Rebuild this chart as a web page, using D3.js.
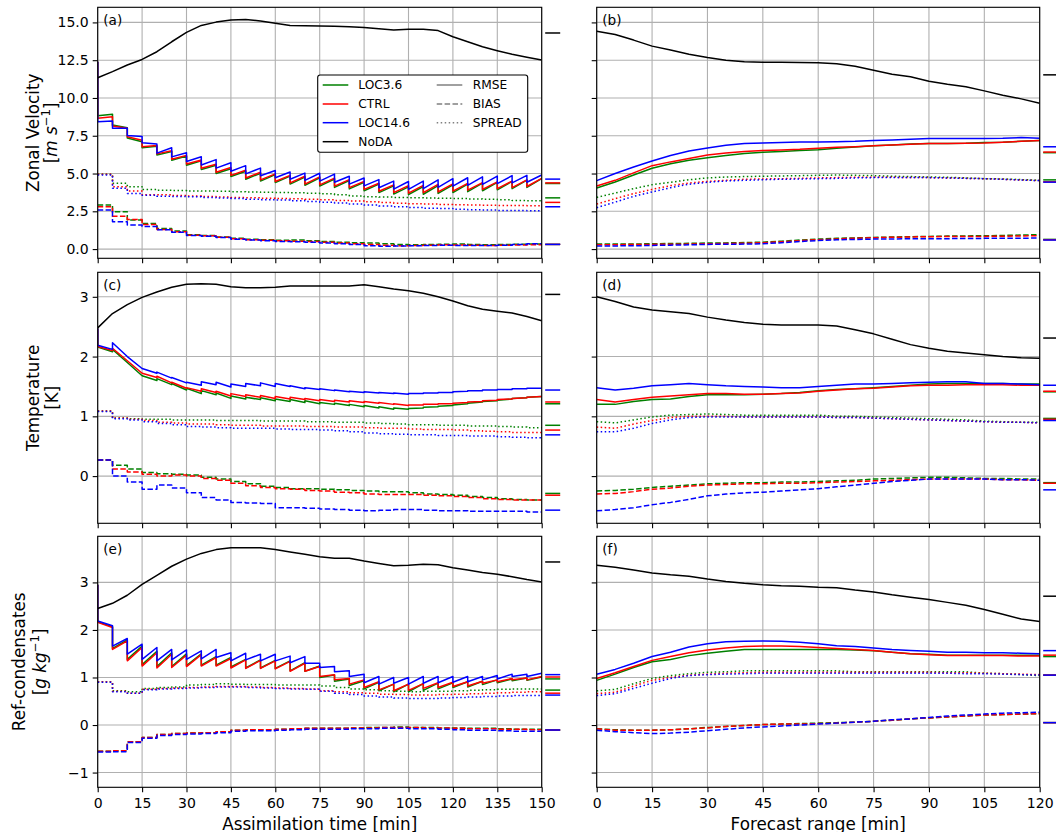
<!DOCTYPE html>
<html>
<head>
<meta charset="utf-8">
<script src="https://cdn.jsdelivr.net/npm/d3@7"></script>
<style>
  body { margin: 0; background: #fff; }
  svg { display: block; font-family: "DejaVu Sans", sans-serif; }
</style>
</head>
<body>
<svg id="chart" width="1056" height="832"></svg>
<script>
// ---------- data ----------
const experiments = ["LOC3.6", "CTRL", "LOC14.6"];
const metrics = ["RMSE", "BIAS", "SPREAD"];
const asmTimes = d3.range(0, 151, 5);   // assimilation cycles, every 5 min
const fcTimes = d3.range(0, 121, 5);    // forecast output, every 5 min

// (a) zonal velocity, assimilation. fg = before analysis, an = after analysis
const uAsmNoDA = [11.34,11.74,12.18,12.55,13.06,13.72,14.34,14.8,15.02,15.16,15.2,15.1,14.94,14.8,14.78,14.76,14.74,14.72,14.67,14.58,14.5,14.54,14.54,14.46,14.05,13.72,13.39,13.13,12.89,12.69,12.51];
const uAsmFgLoc36 = [12.4,8.93,8.03,7.1,6.8,6.45,6.15,5.85,5.55,5.32,5.15,5.02,4.93,4.83,4.76,4.72,4.64,4.54,4.42,4.3,4.18,4.12,4.14,4.2,4.25,4.3,4.36,4.42,4.48,4.56,4.66];
const uAsmAnLoc36 = [8.83,8.21,7.35,6.7,6.22,5.88,5.55,5.27,5.0,4.8,4.62,4.5,4.4,4.3,4.22,4.17,4.08,3.98,3.86,3.74,3.64,3.6,3.63,3.68,3.74,3.8,3.86,3.92,4.0,4.08,4.14];
const uAsmFgCtrl = [12.4,8.76,7.99,7.2,6.85,6.5,6.2,5.9,5.62,5.4,5.22,5.08,4.98,4.88,4.82,4.78,4.7,4.6,4.48,4.36,4.25,4.2,4.22,4.28,4.32,4.35,4.4,4.45,4.5,4.58,4.68];
const uAsmAnCtrl = [8.65,8.14,7.44,6.78,6.3,5.95,5.63,5.35,5.08,4.88,4.7,4.58,4.47,4.38,4.3,4.25,4.17,4.07,3.95,3.83,3.74,3.7,3.73,3.78,3.84,3.9,3.95,4.0,4.07,4.14,4.2];
const uAsmFgLoc146 = [12.4,8.47,8.0,7.45,6.95,6.71,6.38,6.11,5.92,5.71,5.52,5.36,5.2,5.1,5.03,5.02,4.96,4.82,4.7,4.6,4.5,4.47,4.5,4.58,4.66,4.72,4.78,4.83,4.86,4.88,4.9];
const uAsmAnLoc146 = [8.43,8.0,7.52,7.04,6.35,6.1,5.8,5.56,5.36,5.15,4.98,4.85,4.72,4.62,4.55,4.5,4.42,4.3,4.18,4.06,3.97,3.95,4.0,4.08,4.16,4.22,4.28,4.33,4.38,4.42,4.45];
const uAsmSprLoc36 = [4.95,4.35,4.13,3.95,3.9,3.88,3.85,3.84,3.82,3.8,3.78,3.76,3.75,3.72,3.7,3.66,3.6,3.52,3.46,3.44,3.42,3.4,3.38,3.37,3.35,3.32,3.3,3.26,3.22,3.2,3.18];
const uAsmSprCtrl = [4.95,4.13,3.84,3.6,3.6,3.55,3.51,3.48,3.45,3.42,3.4,3.37,3.35,3.33,3.3,3.26,3.22,3.18,3.13,3.08,3.04,3.0,2.98,2.95,2.93,2.92,2.9,2.89,2.88,2.87,2.87];
const uAsmSprLoc146 = [4.9,4.02,3.68,3.57,3.5,3.48,3.46,3.42,3.38,3.35,3.3,3.27,3.24,3.2,3.15,3.1,3.05,2.98,2.91,2.85,2.8,2.75,2.7,2.68,2.63,2.6,2.58,2.56,2.55,2.54,2.54];
const uAsmBiasLoc36 = [2.91,2.47,1.92,1.7,1.37,1.19,0.95,0.9,0.8,0.72,0.65,0.62,0.58,0.6,0.55,0.5,0.45,0.42,0.4,0.35,0.3,0.28,0.3,0.32,0.33,0.3,0.28,0.3,0.32,0.33,0.33];
const uAsmBiasCtrl = [2.8,2.18,1.95,1.62,1.3,1.15,0.92,0.88,0.78,0.68,0.62,0.58,0.55,0.52,0.5,0.45,0.4,0.35,0.3,0.25,0.22,0.24,0.26,0.28,0.27,0.25,0.24,0.25,0.27,0.28,0.3];
const uAsmBiasLoc146 = [2.58,1.81,1.6,1.5,1.28,1.12,0.9,0.85,0.76,0.65,0.6,0.55,0.5,0.48,0.45,0.4,0.35,0.3,0.22,0.18,0.2,0.22,0.24,0.25,0.24,0.23,0.24,0.26,0.3,0.35,0.4];
// side marks: NoDA, RMSE x3, SPREAD x3, BIAS x3
const uAsmMarks = [14.3, 4.34,4.38,4.63, 3.39,3.09,2.8, 0.31,0.31,0.31];

// (b) zonal velocity, forecast
const uFcNoDA = [14.42,14.2,13.83,13.43,13.17,12.9,12.68,12.5,12.39,12.37,12.37,12.35,12.33,12.26,12.1,11.84,11.57,11.4,11.11,10.91,10.74,10.47,10.18,9.94,9.65];
const uFcRmseLoc36 = [4.04,4.44,4.9,5.35,5.65,5.88,6.05,6.19,6.32,6.41,6.45,6.52,6.58,6.67,6.76,6.83,6.89,6.96,6.98,6.98,7.0,7.05,7.07,7.13,7.18];
const uFcRmseCtrl = [4.17,4.55,5.04,5.52,5.77,5.99,6.23,6.36,6.45,6.52,6.56,6.6,6.67,6.74,6.78,6.83,6.89,6.94,6.98,6.98,7.0,7.02,7.07,7.13,7.18];
const uFcRmseLoc146 = [4.53,5.0,5.43,5.83,6.19,6.49,6.69,6.87,6.98,7.02,7.05,7.09,7.09,7.11,7.13,7.18,7.22,7.27,7.31,7.31,7.31,7.31,7.33,7.38,7.33];
const uFcSprLoc36 = [3.42,3.71,4.0,4.26,4.42,4.59,4.71,4.77,4.8,4.82,4.84,4.86,4.88,4.9,4.88,4.86,4.82,4.8,4.77,4.75,4.71,4.66,4.64,4.6,4.55];
const uFcSprCtrl = [2.98,3.34,3.67,3.95,4.2,4.37,4.48,4.55,4.62,4.64,4.66,4.68,4.71,4.73,4.75,4.75,4.75,4.73,4.73,4.71,4.68,4.66,4.62,4.57,4.53];
const uFcSprLoc146 = [2.74,3.11,3.49,3.78,4.06,4.29,4.42,4.51,4.55,4.59,4.62,4.64,4.66,4.68,4.71,4.73,4.73,4.73,4.73,4.71,4.68,4.66,4.62,4.57,4.53];
const uFcBiasLoc36 = [0.33,0.33,0.34,0.35,0.37,0.38,0.4,0.41,0.43,0.46,0.52,0.6,0.66,0.71,0.74,0.77,0.8,0.82,0.84,0.86,0.87,0.88,0.9,0.93,0.95];
const uFcBiasCtrl = [0.29,0.29,0.3,0.31,0.32,0.33,0.35,0.37,0.39,0.42,0.48,0.56,0.62,0.67,0.71,0.75,0.78,0.8,0.82,0.83,0.84,0.84,0.85,0.87,0.88];
const uFcBiasLoc146 = [0.2,0.21,0.22,0.24,0.26,0.28,0.31,0.32,0.33,0.35,0.42,0.5,0.57,0.61,0.64,0.66,0.67,0.68,0.68,0.69,0.7,0.71,0.72,0.72,0.73];
const uFcMarks = [11.53, 6.38,6.42,6.77, 4.58,4.45,4.43, 0.64,0.62,0.6];

// (c) temperature, assimilation
const tAsmNoDA = [2.48,2.72,2.87,2.99,3.08,3.16,3.21,3.22,3.21,3.17,3.15,3.15,3.16,3.18,3.18,3.18,3.18,3.18,3.2,3.17,3.13,3.1,3.06,3.0,2.93,2.85,2.79,2.76,2.73,2.67,2.6];
const tAsmFgLoc36 = [2.47,2.08,1.9,1.68,1.6,1.53,1.44,1.38,1.36,1.3,1.29,1.28,1.26,1.25,1.23,1.21,1.2,1.18,1.16,1.14,1.12,1.12,1.14,1.16,1.18,1.21,1.24,1.26,1.29,1.31,1.33];
const tAsmAnLoc36 = [2.16,2.12,1.9,1.68,1.63,1.55,1.47,1.43,1.39,1.34,1.32,1.31,1.29,1.28,1.26,1.23,1.22,1.2,1.18,1.16,1.14,1.13,1.15,1.17,1.19,1.22,1.25,1.27,1.3,1.32,1.33];
const tAsmFgCtrl = [2.47,2.1,1.93,1.72,1.65,1.56,1.47,1.42,1.4,1.34,1.33,1.32,1.3,1.29,1.28,1.26,1.25,1.24,1.23,1.22,1.2,1.18,1.19,1.2,1.21,1.23,1.25,1.27,1.29,1.31,1.33];
const tAsmAnCtrl = [2.17,2.14,1.93,1.72,1.67,1.57,1.48,1.46,1.42,1.38,1.36,1.35,1.33,1.32,1.3,1.28,1.27,1.26,1.25,1.23,1.21,1.19,1.2,1.21,1.22,1.24,1.26,1.28,1.3,1.32,1.33];
const tAsmFgLoc146 = [2.47,2.12,2.0,1.8,1.72,1.64,1.56,1.52,1.53,1.49,1.5,1.51,1.5,1.5,1.46,1.45,1.43,1.41,1.4,1.39,1.38,1.37,1.38,1.39,1.4,1.42,1.43,1.44,1.45,1.46,1.47];
const tAsmAnLoc146 = [2.19,2.23,2.0,1.8,1.74,1.65,1.57,1.58,1.57,1.54,1.55,1.56,1.55,1.51,1.48,1.46,1.44,1.42,1.41,1.4,1.39,1.38,1.39,1.4,1.41,1.43,1.44,1.45,1.46,1.47,1.47];
const tAsmSprLoc36 = [1.09,0.97,0.96,0.95,0.95,0.94,0.94,0.94,0.93,0.93,0.93,0.92,0.92,0.92,0.91,0.91,0.9,0.9,0.89,0.88,0.87,0.86,0.86,0.85,0.85,0.84,0.84,0.83,0.82,0.81,0.79];
const tAsmSprCtrl = [1.09,0.97,0.95,0.93,0.9,0.89,0.87,0.87,0.86,0.85,0.85,0.84,0.84,0.84,0.83,0.83,0.82,0.82,0.81,0.8,0.8,0.79,0.78,0.78,0.77,0.76,0.75,0.74,0.73,0.73,0.72];
const tAsmSprLoc146 = [1.08,0.96,0.94,0.91,0.88,0.86,0.83,0.82,0.81,0.8,0.8,0.8,0.79,0.78,0.78,0.77,0.76,0.74,0.72,0.71,0.7,0.69,0.69,0.68,0.68,0.67,0.67,0.66,0.65,0.64,0.63];
const tAsmBiasLoc36 = [0.27,0.18,0.12,0.06,0.04,0.03,0.02,-0.02,-0.05,-0.09,-0.13,-0.17,-0.19,-0.21,-0.21,-0.22,-0.23,-0.24,-0.25,-0.26,-0.26,-0.28,-0.3,-0.31,-0.32,-0.34,-0.36,-0.38,-0.39,-0.4,-0.41];
const tAsmBiasCtrl = [0.27,0.12,0.07,0.03,0.0,0.02,0.0,-0.04,-0.07,-0.12,-0.16,-0.19,-0.21,-0.22,-0.24,-0.25,-0.27,-0.28,-0.3,-0.31,-0.31,-0.31,-0.32,-0.33,-0.34,-0.36,-0.38,-0.39,-0.4,-0.4,-0.41];
const tAsmBiasLoc146 = [0.27,0.0,-0.1,-0.22,-0.15,-0.2,-0.28,-0.36,-0.4,-0.44,-0.45,-0.46,-0.53,-0.53,-0.54,-0.55,-0.56,-0.57,-0.58,-0.57,-0.56,-0.56,-0.57,-0.58,-0.58,-0.59,-0.59,-0.59,-0.59,-0.6,-0.6];
const tAsmMarks = [3.04, 1.21,1.24,1.44, 0.85,0.77,0.69, -0.29,-0.32,-0.57];

// (d) temperature, forecast
const tFcNoDA = [3.0,2.92,2.83,2.78,2.75,2.72,2.66,2.61,2.57,2.54,2.53,2.53,2.53,2.51,2.45,2.38,2.29,2.2,2.14,2.09,2.06,2.03,2.0,1.98,1.97];
const tFcRmseLoc36 = [1.2,1.2,1.25,1.28,1.29,1.33,1.36,1.36,1.36,1.37,1.38,1.4,1.43,1.45,1.46,1.48,1.5,1.52,1.54,1.55,1.55,1.55,1.55,1.54,1.54];
const tFcRmseCtrl = [1.28,1.24,1.28,1.32,1.34,1.36,1.38,1.38,1.37,1.37,1.38,1.39,1.42,1.44,1.46,1.47,1.49,1.51,1.52,1.52,1.53,1.53,1.53,1.52,1.52];
const tFcRmseLoc146 = [1.48,1.44,1.47,1.51,1.53,1.55,1.53,1.51,1.5,1.49,1.48,1.48,1.5,1.52,1.54,1.54,1.55,1.56,1.57,1.58,1.58,1.55,1.55,1.54,1.53];
const tFcSprLoc36 = [0.91,0.89,0.94,0.99,1.02,1.03,1.04,1.03,1.02,1.02,1.02,1.02,1.02,1.0,1.0,0.99,0.98,0.97,0.96,0.95,0.94,0.92,0.91,0.9,0.9];
const tFcSprCtrl = [0.82,0.8,0.87,0.93,0.98,1.0,1.0,1.0,0.99,0.99,0.99,0.99,0.99,0.98,0.98,0.97,0.96,0.95,0.94,0.93,0.92,0.91,0.9,0.9,0.89];
const tFcSprLoc146 = [0.74,0.74,0.8,0.88,0.94,0.98,0.99,0.99,0.99,0.99,0.99,0.99,0.99,0.98,0.98,0.97,0.96,0.95,0.94,0.93,0.92,0.91,0.9,0.9,0.89];
const tFcBiasLoc36 = [-0.25,-0.24,-0.22,-0.19,-0.17,-0.15,-0.13,-0.12,-0.11,-0.11,-0.1,-0.1,-0.09,-0.08,-0.07,-0.05,-0.04,-0.03,-0.02,-0.02,-0.03,-0.04,-0.04,-0.05,-0.05];
const tFcBiasCtrl = [-0.3,-0.29,-0.26,-0.22,-0.2,-0.17,-0.15,-0.14,-0.13,-0.13,-0.12,-0.12,-0.11,-0.1,-0.09,-0.08,-0.07,-0.06,-0.05,-0.05,-0.05,-0.05,-0.06,-0.06,-0.07];
const tFcBiasLoc146 = [-0.58,-0.56,-0.53,-0.48,-0.44,-0.39,-0.33,-0.3,-0.28,-0.27,-0.25,-0.23,-0.21,-0.18,-0.15,-0.12,-0.09,-0.07,-0.05,-0.05,-0.05,-0.05,-0.06,-0.06,-0.07];
const tFcMarks = [2.31, 1.41,1.42,1.52, 0.965,0.95,0.93, -0.11,-0.12,-0.23];

// (e) reflectivity condensates, assimilation
const qAsmNoDA = [2.45,2.56,2.73,2.96,3.15,3.34,3.49,3.61,3.69,3.73,3.73,3.73,3.69,3.64,3.59,3.54,3.51,3.51,3.45,3.4,3.35,3.36,3.38,3.37,3.31,3.26,3.21,3.17,3.12,3.06,3.01];
const qAsmFgLoc36 = [2.95,2.07,1.79,1.66,1.55,1.52,1.5,1.5,1.44,1.42,1.38,1.37,1.36,1.35,1.31,1.24,1.05,0.97,0.93,0.9,0.86,0.86,0.87,0.88,0.89,0.91,0.92,0.95,0.97,0.99,1.01];
const qAsmAnLoc36 = [2.17,1.61,1.38,1.27,1.23,1.23,1.25,1.26,1.26,1.22,1.2,1.2,1.19,1.14,1.13,1.0,0.92,0.83,0.76,0.72,0.7,0.7,0.73,0.76,0.79,0.8,0.85,0.89,0.93,0.94,0.98];
const qAsmFgCtrl = [2.95,2.05,1.77,1.63,1.52,1.49,1.47,1.48,1.42,1.4,1.37,1.36,1.35,1.34,1.3,1.23,1.06,0.98,0.95,0.91,0.86,0.86,0.87,0.89,0.9,0.91,0.92,0.95,0.98,0.99,1.02];
const qAsmAnCtrl = [2.16,1.59,1.35,1.24,1.2,1.21,1.23,1.24,1.24,1.2,1.19,1.19,1.18,1.13,1.13,1.02,0.95,0.86,0.79,0.74,0.72,0.73,0.77,0.79,0.81,0.82,0.88,0.91,0.95,0.95,1.0];
const qAsmFgLoc146 = [2.95,2.09,1.82,1.7,1.63,1.59,1.58,1.56,1.59,1.52,1.51,1.49,1.49,1.45,1.44,1.3,1.23,1.14,1.07,1.02,1.0,1.0,1.02,1.02,1.02,1.02,1.02,1.04,1.07,1.07,1.09];
const qAsmAnLoc146 = [2.19,1.66,1.49,1.38,1.35,1.37,1.38,1.39,1.42,1.35,1.37,1.35,1.35,1.31,1.3,1.21,1.12,1.02,0.89,0.86,0.88,0.86,0.88,0.89,0.9,0.91,0.95,0.97,1.02,1.02,1.05];
const qAsmSprLoc36 = [0.91,0.72,0.7,0.77,0.79,0.8,0.84,0.85,0.87,0.86,0.85,0.85,0.84,0.84,0.84,0.82,0.79,0.76,0.74,0.72,0.71,0.7,0.71,0.71,0.72,0.73,0.74,0.75,0.76,0.76,0.76];
const qAsmSprCtrl = [0.91,0.71,0.67,0.75,0.77,0.78,0.79,0.8,0.81,0.81,0.8,0.79,0.78,0.77,0.76,0.72,0.7,0.68,0.67,0.65,0.64,0.63,0.63,0.64,0.65,0.66,0.67,0.68,0.69,0.7,0.7];
const qAsmSprLoc146 = [0.9,0.7,0.67,0.74,0.76,0.77,0.78,0.79,0.8,0.8,0.79,0.78,0.77,0.76,0.75,0.71,0.67,0.64,0.61,0.59,0.57,0.56,0.56,0.57,0.58,0.59,0.6,0.61,0.62,0.62,0.62];
const qAsmBiasLoc36 = [-0.55,-0.54,-0.35,-0.26,-0.2,-0.18,-0.17,-0.16,-0.14,-0.11,-0.1,-0.1,-0.09,-0.08,-0.07,-0.07,-0.07,-0.06,-0.05,-0.05,-0.04,-0.05,-0.05,-0.06,-0.06,-0.07,-0.07,-0.08,-0.09,-0.09,-0.1];
const qAsmBiasCtrl = [-0.55,-0.54,-0.35,-0.26,-0.2,-0.18,-0.17,-0.16,-0.14,-0.11,-0.1,-0.1,-0.09,-0.08,-0.07,-0.07,-0.07,-0.06,-0.06,-0.05,-0.05,-0.05,-0.06,-0.06,-0.07,-0.08,-0.08,-0.09,-0.09,-0.1,-0.1];
const qAsmBiasLoc146 = [-0.57,-0.56,-0.37,-0.28,-0.22,-0.2,-0.19,-0.18,-0.16,-0.13,-0.12,-0.12,-0.11,-0.1,-0.09,-0.09,-0.09,-0.08,-0.08,-0.07,-0.07,-0.08,-0.08,-0.09,-0.1,-0.11,-0.11,-0.12,-0.13,-0.13,-0.14];
const qAsmMarks = [3.43, 0.97,1.01,1.06, 0.735,0.67,0.63, -0.105,-0.105,-0.105];

// (f) reflectivity condensates, forecast
const qFcNoDA = [3.36,3.32,3.26,3.2,3.16,3.13,3.07,3.02,2.98,2.95,2.93,2.92,2.9,2.89,2.84,2.8,2.74,2.69,2.64,2.58,2.52,2.43,2.33,2.23,2.18];
const qFcRmseLoc36 = [0.94,1.07,1.21,1.33,1.38,1.46,1.51,1.55,1.59,1.59,1.59,1.59,1.59,1.59,1.58,1.56,1.53,1.5,1.49,1.47,1.47,1.47,1.47,1.47,1.47];
const qFcRmseCtrl = [0.98,1.1,1.23,1.36,1.44,1.52,1.58,1.62,1.65,1.66,1.66,1.65,1.63,1.61,1.59,1.57,1.53,1.5,1.48,1.46,1.46,1.46,1.46,1.45,1.45];
const qFcRmseLoc146 = [1.07,1.17,1.3,1.44,1.53,1.64,1.71,1.75,1.76,1.77,1.76,1.74,1.71,1.67,1.65,1.62,1.59,1.57,1.55,1.53,1.53,1.52,1.52,1.51,1.5];
const qFcSprLoc36 = [0.72,0.75,0.87,0.98,1.04,1.08,1.11,1.12,1.14,1.14,1.14,1.14,1.14,1.14,1.12,1.12,1.12,1.12,1.12,1.12,1.12,1.09,1.08,1.06,1.04];
const qFcSprCtrl = [0.66,0.69,0.82,0.94,1.0,1.05,1.07,1.09,1.1,1.11,1.11,1.11,1.11,1.11,1.11,1.11,1.11,1.11,1.11,1.1,1.1,1.09,1.08,1.07,1.06];
const qFcSprLoc146 = [0.62,0.66,0.77,0.88,0.98,1.04,1.06,1.07,1.08,1.09,1.09,1.09,1.09,1.09,1.09,1.09,1.09,1.09,1.09,1.09,1.08,1.08,1.07,1.06,1.05];
const qFcBiasLoc36 = [-0.08,-0.1,-0.11,-0.11,-0.1,-0.08,-0.05,-0.03,-0.01,0.01,0.02,0.03,0.04,0.05,0.06,0.08,0.1,0.13,0.15,0.17,0.19,0.21,0.22,0.23,0.24];
const qFcBiasCtrl = [-0.08,-0.11,-0.11,-0.11,-0.1,-0.08,-0.06,-0.03,-0.01,0.01,0.02,0.02,0.03,0.04,0.06,0.08,0.1,0.13,0.15,0.17,0.19,0.21,0.22,0.23,0.24];
const qFcBiasLoc146 = [-0.11,-0.14,-0.16,-0.18,-0.17,-0.15,-0.12,-0.09,-0.06,-0.04,-0.02,0.0,0.02,0.04,0.06,0.08,0.11,0.13,0.16,0.19,0.21,0.23,0.25,0.26,0.27];
const qFcMarks = [2.71, 1.44,1.47,1.565, 1.05,1.05,1.05, 0.05,0.05,0.05];

// axes ticks
const yTickVals = [[0, 2.5, 5, 7.5, 10, 12.5, 15], [0, 1, 2, 3], [-1, 0, 1, 2, 3]];
const yDomains = [[-0.61, 16.0], [-0.79, 3.41], [-1.31, 3.97]];

// ---------- layout ----------
const svg = d3.select("#chart");
const expColors = ["#008000", "#ff0000", "#0000ff"];
const colX = [[97.7, 541.7], [596.7, 1039.7]];
const rowY = [[7.3, 258.3], [272.3, 523.3], [536.3, 787.3]];
const minus = v => (v < 0 ? "\u2212" + Math.abs(v) : "" + v);
const yFormats = [d3.format(".1f"), minus, minus];
const dashes = { RMSE: null, BIAS: "5.5,2.4", SPREAD: "1.5,2.5" };

const panels = [
  { label: "(a)", row: 0, col: 0, times: asmTimes, noda: uAsmNoDA,
    fg: [uAsmFgLoc36, uAsmFgCtrl, uAsmFgLoc146], an: [uAsmAnLoc36, uAsmAnCtrl, uAsmAnLoc146],
    spread: [uAsmSprLoc36, uAsmSprCtrl, uAsmSprLoc146], bias: [uAsmBiasLoc36, uAsmBiasCtrl, uAsmBiasLoc146], marks: uAsmMarks },
  { label: "(b)", row: 0, col: 1, times: fcTimes, noda: uFcNoDA,
    rmse: [uFcRmseLoc36, uFcRmseCtrl, uFcRmseLoc146],
    spread: [uFcSprLoc36, uFcSprCtrl, uFcSprLoc146], bias: [uFcBiasLoc36, uFcBiasCtrl, uFcBiasLoc146], marks: uFcMarks },
  { label: "(c)", row: 1, col: 0, times: asmTimes, noda: tAsmNoDA,
    fg: [tAsmFgLoc36, tAsmFgCtrl, tAsmFgLoc146], an: [tAsmAnLoc36, tAsmAnCtrl, tAsmAnLoc146],
    spread: [tAsmSprLoc36, tAsmSprCtrl, tAsmSprLoc146], bias: [tAsmBiasLoc36, tAsmBiasCtrl, tAsmBiasLoc146], marks: tAsmMarks },
  { label: "(d)", row: 1, col: 1, times: fcTimes, noda: tFcNoDA,
    rmse: [tFcRmseLoc36, tFcRmseCtrl, tFcRmseLoc146],
    spread: [tFcSprLoc36, tFcSprCtrl, tFcSprLoc146], bias: [tFcBiasLoc36, tFcBiasCtrl, tFcBiasLoc146], marks: tFcMarks },
  { label: "(e)", row: 2, col: 0, times: asmTimes, noda: qAsmNoDA,
    fg: [qAsmFgLoc36, qAsmFgCtrl, qAsmFgLoc146], an: [qAsmAnLoc36, qAsmAnCtrl, qAsmAnLoc146],
    spread: [qAsmSprLoc36, qAsmSprCtrl, qAsmSprLoc146], bias: [qAsmBiasLoc36, qAsmBiasCtrl, qAsmBiasLoc146], marks: qAsmMarks },
  { label: "(f)", row: 2, col: 1, times: fcTimes, noda: qFcNoDA,
    rmse: [qFcRmseLoc36, qFcRmseCtrl, qFcRmseLoc146],
    spread: [qFcSprLoc36, qFcSprCtrl, qFcSprLoc146], bias: [qFcBiasLoc36, qFcBiasCtrl, qFcBiasLoc146], marks: qFcMarks }
];

svg.append("rect").attr("width", 1056).attr("height", 832).attr("fill", "#fff");

function drawPanel(p) {
  const [x0, x1] = colX[p.col], [y0, y1] = rowY[p.row];
  const tmax = p.times[p.times.length - 1];
  const x = d3.scaleLinear().domain([0, tmax]).range([x0, x1]);
  const y = d3.scaleLinear().domain(yDomains[p.row]).range([y1, y0]);
  const xTicks = d3.range(0, tmax + 1, 15);
  const g = svg.append("g");
  const clipId = "clip" + p.row + p.col;
  g.append("clipPath").attr("id", clipId)
    .append("rect").attr("x", x0).attr("y", y0).attr("width", x1 - x0).attr("height", y1 - y0);

  // grid
  const grid = g.append("g").attr("stroke", "#b0b0b0").attr("stroke-width", 1.1);
  grid.selectAll(".gx").data(xTicks).join("line")
    .attr("x1", d => x(d)).attr("x2", d => x(d)).attr("y1", y0).attr("y2", y1);
  grid.selectAll(".gy").data(yTickVals[p.row]).join("line")
    .attr("x1", x0).attr("x2", x1).attr("y1", d => y(d)).attr("y2", d => y(d));

  const plot = g.append("g").attr("clip-path", `url(#${clipId})`)
    .attr("fill", "none").attr("stroke-width", 1.5).attr("stroke-linejoin", "round");
  const line = d3.line().x(d => x(d[0])).y(d => y(d[1]));
  const stepLine = d3.line().curve(d3.curveStepAfter).x(d => x(d[0])).y(d => y(d[1]));
  const pairs = arr => p.times.map((t, i) => [t, arr[i]]);

  experiments.forEach((e, i) => {
    let rmsePts;
    if (p.fg) {
      // sawtooth: value before and after each analysis
      rmsePts = [];
      p.times.forEach((t, k) => {
        rmsePts.push([t, p.fg[i][k]]);
        if (k < p.times.length - 1) rmsePts.push([t, p.an[i][k]]);
      });
    } else {
      rmsePts = pairs(p.rmse[i]);
    }
    const lineFn = p.fg ? stepLine : line;
    plot.append("path").attr("d", line(rmsePts)).attr("stroke", expColors[i]);
    plot.append("path").attr("d", lineFn(pairs(p.bias[i]))).attr("stroke", expColors[i])
      .attr("stroke-dasharray", dashes.BIAS);
    plot.append("path").attr("d", lineFn(pairs(p.spread[i]))).attr("stroke", expColors[i])
      .attr("stroke-dasharray", dashes.SPREAD);
  });
  plot.append("path").attr("d", line(pairs(p.noda))).attr("stroke", "#000");

  // side marks (mean values), outside the axes
  const markColors = ["#000"].concat(expColors, expColors, expColors);
  g.append("g").selectAll("line").data(p.marks).join("line")
    .attr("x1", x1 + 3.5).attr("x2", x1 + 18.5)
    .attr("y1", d => y(d)).attr("y2", d => y(d))
    .attr("stroke", (d, k) => markColors[k]).attr("stroke-width", 1.5);

  // axes
  const ax = g.append("g").attr("transform", `translate(0,${y1})`)
    .call(d3.axisBottom(x).tickValues(xTicks).tickSize(5).tickPadding(5.5)
      .tickFormat(p.row === 2 ? d3.format("d") : ""));
  const ay = g.append("g").attr("transform", `translate(${x0},0)`)
    .call(d3.axisLeft(y).tickValues(yTickVals[p.row]).tickSize(5).tickPadding(4)
      .tickFormat(p.col === 0 ? yFormats[p.row] : ""));
  [ax, ay].forEach(a => {
    a.select(".domain").remove();
    a.attr("font-family", null).attr("font-size", 14);
    a.selectAll("line").attr("stroke-width", 1.1);
    a.selectAll("text").attr("fill", "#000");
  });

  g.append("rect").attr("x", x0).attr("y", y0).attr("width", x1 - x0).attr("height", y1 - y0)
    .attr("fill", "none").attr("stroke", "#000").attr("stroke-width", 1.1);

  g.append("text").attr("x", x0 + 5.6).attr("y", y0 + 18)
    .attr("font-size", 13.6).text(p.label);
}

panels.forEach(drawPanel);

// ---------- y labels ----------
function yLabel(cx1, cx2, cy, title, unitParts) {
  const fs = 16.8;
  svg.append("text").attr("transform", `translate(${cx1},${cy}) rotate(-90)`)
    .attr("text-anchor", "middle").attr("dy", "0.35em").attr("font-size", fs).text(title);
  const u = svg.append("text").attr("transform", `translate(${cx2},${cy}) rotate(-90)`)
    .attr("text-anchor", "middle").attr("dy", "0.35em").attr("font-size", fs);
  unitParts.forEach(part => {
    const t = u.append("tspan").text(part.text);
    if (part.italic) t.attr("font-style", "italic");
    if (part.sup) t.attr("font-size", fs * 0.7).attr("dy", -7);
    if (part.after) t.attr("dy", 7);
  });
}
const rowMid = r => (rowY[r][0] + rowY[r][1]) / 2;
yLabel(33, 51, rowMid(0), "Zonal Velocity",
  [{ text: "[" }, { text: "m s", italic: true }, { text: "\u22121", sup: true }, { text: "]", after: true }]);
yLabel(33, 52, rowMid(1), "Temperature", [{ text: "[K]" }]);
yLabel(19, 40, rowMid(2), "Ref-condensates",
  [{ text: "[" }, { text: "g kg", italic: true }, { text: "\u22121", sup: true }, { text: "]", after: true }]);

// ---------- x labels ----------
svg.append("text").attr("x", (colX[0][0] + colX[0][1]) / 2).attr("y", 829.5)
  .attr("text-anchor", "middle").attr("font-size", 16.8).text("Assimilation time [min]");
svg.append("text").attr("x", (colX[1][0] + colX[1][1]) / 2).attr("y", 829.5)
  .attr("text-anchor", "middle").attr("font-size", 16.8).text("Forecast range [min]");

// ---------- legend (panel a) ----------
const legend = svg.append("g");
legend.append("rect").attr("x", 317.7).attr("y", 75).attr("width", 210).attr("height", 77.3)
  .attr("rx", 2.5).attr("fill", "#fff").attr("stroke", "#000").attr("stroke-width", 1.1);
const legRows = [85, 104, 122.7, 141.7];
const legLeft = experiments.map((e, i) => ({ name: e, color: expColors[i], dash: null }))
  .concat([{ name: "NoDA", color: "#000", dash: null }]);
const legRight = metrics.map(m => ({ name: m, color: "#808080", dash: dashes[m] }));
[[legLeft, 322.7, 358.3], [legRight, 436.7, 472.7]].forEach(([items, hx, tx]) => {
  items.forEach((it, k) => {
    legend.append("line").attr("x1", hx).attr("x2", hx + 25.6)
      .attr("y1", legRows[k]).attr("y2", legRows[k])
      .attr("stroke", it.color).attr("stroke-width", 1.5).attr("stroke-dasharray", it.dash);
    legend.append("text").attr("x", tx).attr("y", legRows[k]).attr("dy", "0.36em")
      .attr("font-size", 12.2).text(it.name);
  });
});
</script>
</body>
</html>
